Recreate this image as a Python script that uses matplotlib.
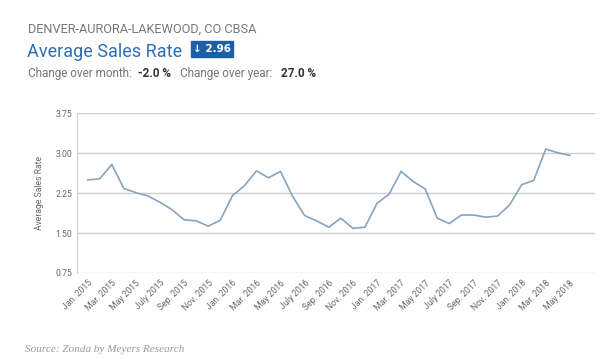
import matplotlib
matplotlib.use("Agg")
import matplotlib.pyplot as plt
from matplotlib import font_manager
from matplotlib.patches import Rectangle

# monthly average sales rate, Jan 2015 .. May 2018
months = ["Jan. 2015", "Feb. 2015", "Mar. 2015", "Apr. 2015", "May 2015", "June 2015",
          "July 2015", "Aug. 2015", "Sep. 2015", "Oct. 2015", "Nov. 2015", "Dec. 2015",
          "Jan. 2016", "Feb. 2016", "Mar. 2016", "Apr. 2016", "May 2016", "June 2016",
          "July 2016", "Aug. 2016", "Sep. 2016", "Oct. 2016", "Nov. 2016", "Dec. 2016",
          "Jan. 2017", "Feb. 2017", "Mar. 2017", "Apr. 2017", "May 2017", "June 2017",
          "July 2017", "Aug. 2017", "Sep. 2017", "Oct. 2017", "Nov. 2017", "Dec. 2017",
          "Jan. 2018", "Feb. 2018", "Mar. 2018", "Apr. 2018", "May 2018"]
rate = [2.50, 2.52, 2.79, 2.34, 2.26, 2.20, 2.08, 1.94, 1.75, 1.73, 1.63, 1.74,
        2.20, 2.39, 2.67, 2.54, 2.66, 2.19, 1.83, 1.73, 1.61, 1.78, 1.59, 1.61,
        2.06, 2.23, 2.66, 2.47, 2.33, 1.78, 1.68, 1.84, 1.84, 1.80, 1.82, 2.03,
        2.41, 2.49, 3.08, 3.01, 2.96]
y_ticks = [0.75, 1.50, 2.25, 3.00, 3.75]

installed = {f.name for f in font_manager.fontManager.ttflist}
narrow = "Liberation Sans Narrow" if "Liberation Sans Narrow" in installed else "Roboto"
plt.rcParams["font.family"] = [narrow, "DejaVu Sans"]

fig = plt.figure(figsize=(6, 3.59), dpi=100)
ax = fig.add_axes([0.128, 0.2396, 0.864, 0.4444])

x = list(range(len(rate)))
ax.plot(x, rate, color="#86a3c0", lw=1.2)
ax.set_xlim(-0.9, 42.1)
ax.set_ylim(0.75, 3.75)
ax.set_yticks(y_ticks)
ax.set_yticklabels([f"{v:.2f}" for v in y_ticks])
ax.grid(axis="y", color="#cfcfcf", lw=1)
ax.set_axisbelow(True)
for s in ["top", "right", "bottom"]:
    ax.spines[s].set_visible(False)
ax.spines["left"].set_color("#cfcfcf")
ax.set_xticks(x[::2])
ax.set_xticklabels(months[::2], rotation=45, ha="right", rotation_mode="anchor",
                   fontsize=6.2, color="#666666")
ax.tick_params(axis="both", length=0, colors="#666666", labelsize=6.2)
ax.tick_params(axis="x", pad=4)
ax.set_ylabel("Average Sales Rate", fontsize=6.2, color="#666666", labelpad=8)

fig.text(0.047, 0.91, "DENVER-AURORA-LAKEWOOD, CO CBSA", fontsize=9.2, color="#777777")
fig.text(0.045, 0.84, "Average Sales Rate", fontsize=13, color="#2f6fb5")
fig.patches.append(Rectangle((191 / 600, 1 - 57 / 359), 42 / 600, 16 / 359,
                             transform=fig.transFigure, color="#1d5ea8"))
fig.text(212 / 600, 1 - 49 / 359, "\u2193 2.96", fontsize=7.5, color="white",
         fontweight="bold", ha="center", va="center", family=["DejaVu Sans"])
fig.text(0.047, 0.785, "Change over month:", fontsize=8.5, color="#777777")
fig.text(0.230, 0.785, "-2.0 %", fontsize=8.5, color="#333333", fontweight="bold")
fig.text(0.300, 0.785, "Change over year:", fontsize=8.5, color="#777777")
fig.text(0.468, 0.785, "27.0 %", fontsize=8.5, color="#333333", fontweight="bold")

fig.text(0.042, 0.02, "Source: Zonda by Meyers Research", fontsize=8, color="#999999",
         style="italic", family=["Liberation Serif", "DejaVu Serif"])

fig.savefig("out.png", dpi=100, facecolor="white")
